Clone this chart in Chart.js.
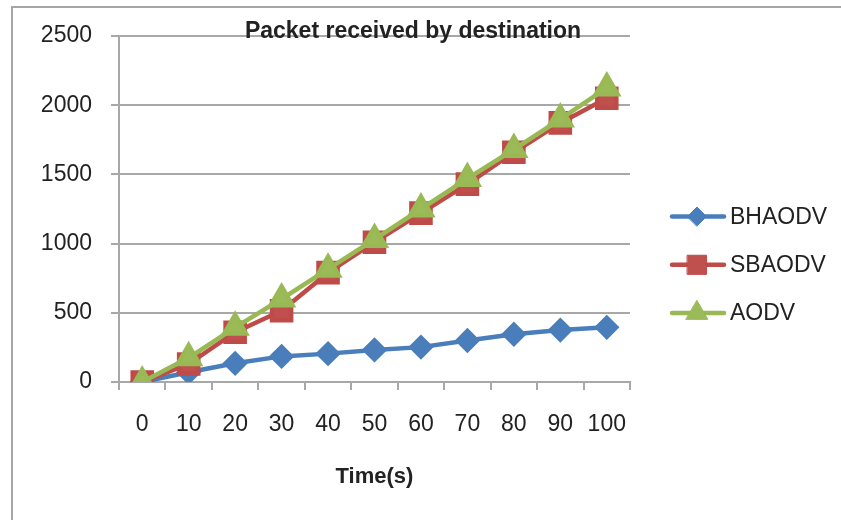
<!DOCTYPE html>
<html>
<head>
<meta charset="utf-8">
<title>Packet received by destination</title>
<script src="https://cdn.jsdelivr.net/npm/chart.js"></script>
<style>
  html, body { margin: 0; padding: 0; background: #fff; }
  #wrap { width: 841px; height: 520px; }
</style>
</head>
<body>
<div id="wrap"><canvas id="myChart" width="841" height="520"></canvas></div>
<script>
// values
let times = ['0', '10', '20', '30', '40', '50', '60', '70', '80', '90', '100']
let bhaodv = [0, 70, 135, 185, 205, 232, 252, 300, 345, 375, 395]
let sbaodv = [0, 130, 360, 515, 790, 1010, 1220, 1430, 1660, 1872, 2050]
let aodv = [0, 175, 395, 600, 815, 1030, 1250, 1470, 1680, 1900, 2125]
let seriesNames = ['BHAODV', 'SBAODV', 'AODV']
let yTicks = [0, 500, 1000, 1500, 2000, 2500]

let chartTitle = 'Packet received by destination'
let xTitle = 'Time(s)'

const gridColor = '#a8a8a8'
const textColor = '#222222'
const fontFamily = "'Liberation Sans', Arial, sans-serif"

// title, frame and legend drawn on the canvas ourselves (excel-ish layout)
const decorations = {
  id: 'decorations',
  beforeDraw(chart) {
    const ctx = chart.ctx
    ctx.save()
    ctx.strokeStyle = '#a6a6a6'
    ctx.lineWidth = 2
    ctx.beginPath()
    ctx.moveTo(12, 520)
    ctx.lineTo(12, 7)
    ctx.lineTo(841, 7)
    ctx.stroke()
    ctx.restore()
  },
  afterDraw(chart) {
    const ctx = chart.ctx
    ctx.save()
    ctx.fillStyle = textColor
    ctx.font = 'bold 23px ' + fontFamily
    ctx.textAlign = 'center'
    ctx.textBaseline = 'middle'
    ctx.fillText(chartTitle, 413, 32)

    chart.data.datasets.forEach((ds, i) => {
      let y = 216.5 + i * 48.3
      ctx.strokeStyle = ds.borderColor
      ctx.lineWidth = ds.borderWidth
      ctx.lineCap = 'round'
      ctx.beginPath()
      ctx.moveTo(672, y)
      ctx.lineTo(724, y)
      ctx.stroke()
      let opts = {
        pointStyle: ds.pointStyle,
        radius: ds.pointRadius,
        borderWidth: 1,
        rotation: 0,
      }
      ctx.fillStyle = ds.pointBackgroundColor
      ctx.strokeStyle = ds.pointBorderColor
      ctx.lineWidth = 1
      if (Chart.helpers && Chart.helpers.drawPoint) {
        Chart.helpers.drawPoint(ctx, opts, 697, y)
      }
      ctx.fillStyle = textColor
      ctx.font = '23px ' + fontFamily
      ctx.textAlign = 'left'
      ctx.textBaseline = 'middle'
      ctx.fillText(ds.label, 730, y + 1)
    })
    ctx.restore()
  },
}

const ctx = document.getElementById('myChart').getContext('2d')

const myChart = new Chart(ctx, {
  type: 'line',
  data: {
    labels: times,
    datasets: [
      {
        label: seriesNames[0],
        data: bhaodv,
        borderColor: '#4a7ebb',
        backgroundColor: '#4a7ebb',
        pointBackgroundColor: '#4a7ebb',
        pointBorderColor: '#4a7ebb',
        borderWidth: 4.5,
        pointStyle: 'rectRot',
        pointRadius: 9.5,
        order: 2,
      },
      {
        label: seriesNames[1],
        data: sbaodv,
        borderColor: '#be4b48',
        backgroundColor: '#be4b48',
        pointBackgroundColor: '#c0504d',
        pointBorderColor: '#be4b48',
        borderWidth: 4.5,
        pointStyle: 'rect',
        pointRadius: 13.5,
        order: 1,
      },
      {
        label: seriesNames[2],
        data: aodv,
        borderColor: '#98b954',
        backgroundColor: '#98b954',
        pointBackgroundColor: '#9bbb59',
        pointBorderColor: '#98b954',
        borderWidth: 4.5,
        pointStyle: 'triangle',
        pointRadius: 12.5,
        order: 0,
      },
    ],
  },
  options: {
    responsive: false,
    animation: false,
    devicePixelRatio: 1,
    layout: {
      padding: { left: 0, top: 36, right: 211, bottom: 0 },
    },
    elements: {
      line: { tension: 0, borderCapStyle: 'round', borderJoinStyle: 'round' },
      point: { borderWidth: 1, hoverRadius: 10 },
    },
    scales: {
      x: {
        type: 'category',
        offset: true,
        grid: {
          offset: true,
          drawOnChartArea: false,
          drawTicks: true,
          tickLength: 8,
          color: gridColor,
          lineWidth: 2,
        },
        border: { color: gridColor, width: 2 },
        ticks: {
          color: textColor,
          font: { family: fontFamily, size: 23 },
          padding: 21,
          maxRotation: 0,
          autoSkip: false,
        },
        title: {
          display: true,
          text: xTitle,
          color: textColor,
          font: { family: fontFamily, size: 22, weight: 'bold' },
          padding: { top: 0, bottom: 30 },
        },
        afterFit: function (scale) {
          scale.height = 138
        },
      },
      y: {
        min: 0,
        max: 2500,
        afterBuildTicks: function (scale) {
          scale.ticks = yTicks.map((v) => ({ value: v }))
        },
        grid: {
          color: gridColor,
          lineWidth: 2,
          drawTicks: true,
          tickLength: 8,
        },
        border: { color: gridColor, width: 2 },
        ticks: {
          color: textColor,
          font: { family: fontFamily, size: 23 },
          padding: 19,
          callback: function (value) {
            return String(value)
          },
        },
        afterFit: function (scale) {
          scale.width = 119
        },
      },
    },
    plugins: {
      legend: { display: false },
      title: { display: false },
      tooltip: { enabled: false },
    },
  },
  plugins: [decorations],
})
</script>
</body>
</html>
